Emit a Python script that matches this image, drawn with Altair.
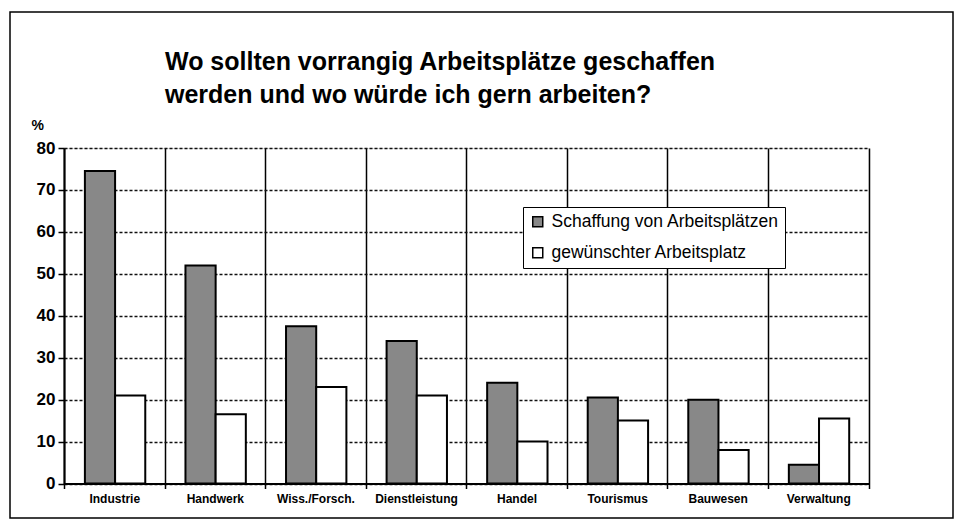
import altair as alt
import pandas as pd

categories = ["Industrie", "Handwerk", "Wiss./Forsch.", "Dienstleistung",
              "Handel", "Tourismus", "Bauwesen", "Verwaltung"]
series = ["Schaffung von Arbeitsplätzen", "gewünschter Arbeitsplatz"]
schaffung = [74.5, 52, 37.5, 34, 24, 20.5, 20, 4.5]
gewuenscht = [21, 16.5, 23, 21, 10, 15, 8, 15.5]
y_ticks = [0, 10, 20, 30, 40, 50, 60, 70, 80]
title_lines = ["Wo sollten vorrangig Arbeitsplätze geschaffen",
               "werden und wo würde ich gern arbeiten?"]

rows = []
for i, c in enumerate(categories):
    rows.append({"Bereich": c, "Reihe": series[0], "Wert": schaffung[i]})
    rows.append({"Bereich": c, "Reihe": series[1], "Wert": gewuenscht[i]})
df = pd.DataFrame(rows)

FONT = "Liberation Sans"

bars = alt.Chart(df).mark_bar(stroke="black", strokeWidth=2).encode(
    x=alt.X("Bereich:N", sort=categories,
            scale=alt.Scale(paddingInner=0, paddingOuter=0),
            axis=alt.Axis(title=None, labelAngle=0, tickBand="extent",
                          grid=True, gridColor="black", gridWidth=1.5,
                          domainColor="black", domainWidth=2,
                          tickColor="black", tickWidth=1.5, tickSize=5,
                          labelFont=FONT, labelFontWeight="bold",
                          labelFontSize=12, labelColor="black",
                          labelPadding=5)),
    xOffset=alt.XOffset("Reihe:N", sort=series,
                        scale=alt.Scale(paddingInner=0, paddingOuter=0.666,
                                        align=0.52)),
    y=alt.Y("Wert:Q", scale=alt.Scale(domain=[0, 80], nice=False),
            axis=alt.Axis(values=y_ticks, title="%", titleAngle=0,
                          titleX=-33, titleY=-23, titleAlign="left",
                          titleBaseline="middle", titleFont=FONT,
                          titleFontSize=14, titleFontWeight="bold",
                          titleColor="black",
                          grid=True, gridColor="#111", gridDash=[3, 2],
                          gridWidth=1.5, domainColor="black", domainWidth=2,
                          tickColor="black", tickSize=6, tickWidth=1.5,
                          labelFont=FONT, labelFontSize=17,
                          labelFontWeight="bold", labelPadding=3,
                          labelColor="black")),
    color=alt.Color("Reihe:N", sort=series,
                    scale=alt.Scale(domain=series, range=["#888888", "white"]),
                    legend=alt.Legend(title=None, orient="none", legendX=459,
                                      legendY=59, direction="vertical",
                                      strokeColor="black", fillColor="white",
                                      padding=6, labelFontSize=17.5,
                                      labelLimit=400,
                                      labelFont=FONT, labelColor="black",
                                      symbolType="square", symbolSize=100,
                                      symbolStrokeColor="black",
                                      symbolStrokeWidth=1.5, rowPadding=12,
                                      labelOffset=5)),
)

frame = alt.Chart(pd.DataFrame({"k": [0]})).mark_rect(
    fill="white", fillOpacity=0, stroke="black", strokeWidth=1.5
).encode(x=alt.value(-54), x2=alt.value(889), y=alt.value(-136), y2=alt.value(370))

chart = alt.layer(frame, bars).properties(
    width=804.5, height=335.5,
    autosize=alt.AutoSizeParams(type="none"),
    padding={"left": 56, "top": 140, "right": 86, "bottom": 36},
    title=alt.TitleParams(text=title_lines, anchor="start", dx=101,
                          fontSize=25, font=FONT, fontWeight="bold",
                          lineHeight=33, offset=-97, frame="group",
                          color="black"),
).configure_view(stroke="black", strokeWidth=1.5).configure(font=FONT)

chart.save("out.html", embed_options={"renderer": "svg", "actions": False})
